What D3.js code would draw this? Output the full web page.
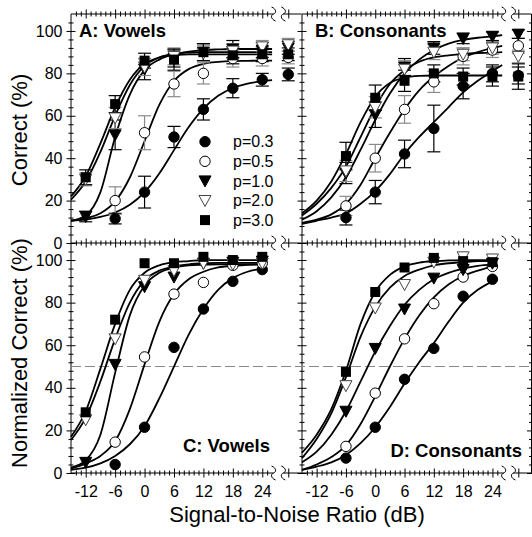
<!DOCTYPE html>
<html>
<head>
<meta charset="utf-8">
<script src="https://cdn.jsdelivr.net/npm/d3@7"></script>
<style>
  body { margin: 0; background: #fff; }
  svg { display: block; font-family: "Liberation Sans", Arial, Helvetica, sans-serif; }
</style>
</head>
<body>
<svg id="chart" width="532" height="537"></svg>
<script>
// ---- data ----
const snr = [-12, -6, 0, 6, 12, 18, 24];
const pLabels = ["p=0.3", "p=0.5", "p=1.0", "p=2.0", "p=3.0"];
const yTickLabels = [0, 20, 40, 60, 80, 100];

// A: vowels, % correct (rows follow pLabels)
const vowelsPct = [
  [null, 11.5, 24, 50, 63, 73, 77],
  [null, 20, 52, 75, 80, 87, 87],
  [12.5, 51, 82, 87, 90, 91.5, 91],
  [30, 59, 83, 88, 89.5, 90.5, 92.5],
  [31, 65.5, 86, 86.5, 90, 88.5, 89]
];
const vowelsErr = [
  [0, 2.5, 7.5, 5, 5, 4.5, 3],
  [0, 6.5, 8, 6, 5, 4, 3.5],
  [2.5, 7, 5, 4, 4, 4, 3.5],
  [3, 5, 4, 4, 3.5, 3.5, 3],
  [3.5, 4, 3.5, 5, 4, 4, 3.5]
];
const vowelsQuiet = [79.5, 87.5, 92, 93.5, 89];
const vowelsQuietErr = [3, 3, 3, 3, 3];

// B: consonants, % correct
const consPct = [
  [null, 12, 24, 42, 54, 74, 80],
  [null, 17.5, 40, 63, 76, 88, 91],
  [null, 33, 60.5, 83, 92, 96.5, 97.5],
  [null, 34, 64, 82, 90, 89, 92],
  [null, 41, 68.5, 76.5, 80, 78.5, 78.5]
];
const consErr = [
  [0, 3.5, 5.5, 6.5, 11, 6, 4],
  [0, 4.5, 6.5, 6.5, 5, 4, 3.5],
  [0, 5, 6, 4, 3, 2.5, 2],
  [0, 5, 5, 4, 3.5, 3, 3],
  [0, 6.5, 6, 5, 4, 4, 4.5]
];
const consQuiet = [79, 93, 98.5, 88, 78.5];
const consQuietErr = [4, 3.5, 2, 3, 6];

// C, D: normalized % correct
const vowelsNorm = [
  [null, 4, 21.5, 59, 77, 90, 95.5],
  [null, 14.5, 54.5, 84, 89.5, 97.5, 98.5],
  [5, 51, 87.5, 92, 98.5, 99, 99.5],
  [25, 63, 90.5, 95, 98.5, 98, 98.5],
  [28.5, 72, 98.5, 98.5, 101.5, 100, 101.5]
];
const consNorm = [
  [null, 7, 21.5, 44, 58.5, 83, 91],
  [null, 12.5, 37.5, 63, 79.5, 92, 97],
  [null, 29, 58.5, 77, 91.5, 95.5, 98.5],
  [null, 41, 77.5, 88.5, 99, 101.5, 100.5],
  [null, 47.5, 85, 96.5, 101, 99.5, 99]
];

// fitted curves, sampled off the figure
const fitSnrTop = [-15, -12, -9, -6, -3, 0, 3, 6, 9, 12, 15, 18, 21, 24, 26];
const fitSnrBottom = [-15, -12, -9, -6, -3, 0, 3, 6, 9, 12, 15, 18, 21, 24];
const vowelsFit = [
  [10.5, 11, 12.3, 14.4, 18, 24, 32.8, 43.8, 54.7, 63.4, 69.4, 73.1, 75.2, 76.3, 76.8],
  [10.6, 11.6, 14, 19.6, 30.9, 48, 65.1, 76.4, 82, 84.5, 85.4, 85.8, 85.9, 86, 86],
  [10.5, 13, 24, 50, 70, 81.5, 86.5, 89, 90.3, 91, 91.3, 91.5, 91.5, 91.5, 91.5],
  [20.5, 29, 43, 60, 74.5, 83.5, 87.5, 89.2, 89.8, 90, 90, 90, 90, 90, 90],
  [22, 31.5, 47, 64, 77, 84.5, 87.5, 88.5, 89, 89, 89, 89, 89, 89, 89]
];
const consFit = [
  [9, 10.5, 12, 14, 18.5, 24.5, 32.5, 42, 50, 57, 64, 71, 76.5, 81, 84],
  [9.5, 11, 13.5, 18.5, 27.5, 40, 52, 63, 72, 78.5, 83.5, 87.5, 90, 92, 93],
  [11, 15, 21.5, 31, 44, 58, 70.5, 80, 86.5, 91, 94, 95.8, 96.8, 97.5, 98],
  [13, 18.5, 26, 36, 50, 64, 75, 81.5, 85.5, 87.5, 88.5, 89.2, 89.6, 89.8, 90],
  [14, 20, 29, 42, 57, 69, 75.5, 78, 78.8, 79, 79, 79, 79, 79, 79]
];
const vowelsNormFit = [
  [1.5, 2.5, 4.5, 8, 13.5, 22, 35, 50, 65, 77, 86, 91.5, 94.5, 96],
  [2, 4.5, 8, 15, 30, 51, 71, 84, 91, 94.5, 96.5, 97.3, 97.7, 98],
  [2.5, 6, 18, 47, 74, 88, 94, 96.5, 97.5, 97.8, 98, 98, 98, 98],
  [15.5, 26, 43, 63, 80, 90.5, 95, 97, 98, 98.5, 98.7, 98.7, 98.7, 98.7],
  [17, 29, 49, 70, 86, 94, 97.5, 99, 99.5, 100, 100, 100, 100, 100]
];
const consNormFit = [
  [1.5, 3, 5, 8.5, 14, 21.5, 31, 42, 52, 61, 71, 80, 86, 90],
  [1.5, 4, 7.5, 13, 23, 36, 50, 63, 74, 82.5, 88.5, 92.5, 95, 97],
  [5, 10, 18, 29, 43, 57, 69, 79, 86, 91, 94, 96, 97.3, 98],
  [7, 16, 28, 45, 64, 78, 87, 92.5, 95.5, 97.5, 98.5, 99, 99.5, 99.5],
  [9.5, 18, 30, 48, 70, 85, 93, 97, 98.8, 99.5, 99.8, 100, 100, 100]
];

// ---- layout ----
const svg = d3.select("#chart");
const xL = d3.scaleLinear().domain([-15, 32]).range([71, 301.5]);
const xR = d3.scaleLinear().domain([-15, 32]).range([302, 531.5]);
const yT = d3.scaleLinear().domain([0, 108]).range([243, 14]);
const yB = d3.scaleLinear().domain([0, 108]).range([473, 243]);
const breakA = 26.3, breakB = 28.3, quietAt = 29.3;
const tickFont = 16;

const gAxes = svg.append("g");
const gMarks = svg.append("g");

// squiggle for the broken axis
function squiggle(g, cx, cy) {
  g.append("path")
    .attr("d", `M${cx - 2},${cy - 7} C${cx + 3},${cy - 5} ${cx + 3},${cy - 1} ${cx},${cy} C${cx - 3},${cy + 1} ${cx - 3},${cy + 5} ${cx + 2},${cy + 7}`)
    .attr("fill", "none")
    .attr("stroke", "#000")
    .attr("stroke-width", 1);
}

function xAxisAt(x, yPos, withLabels) {
  const g = gAxes.append("g");
  g.append("line").attr("x1", x(-15)).attr("x2", x(breakA))
    .attr("y1", yPos).attr("y2", yPos).attr("stroke", "#000");
  g.append("line").attr("x1", x(breakB)).attr("x2", x.range()[1])
    .attr("y1", yPos).attr("y2", yPos).attr("stroke", "#000");
  squiggle(g, x(breakA), yPos);
  squiggle(g, x(breakB), yPos);

  const minor = d3.range(-14, 26).filter(v => v % 6 !== 0);
  const minorAxis = g.append("g").attr("transform", `translate(0,${yPos})`)
    .call(d3.axisBottom(x).tickValues(minor).tickSize(2.5).tickFormat(""));
  minorAxis.select(".domain").remove();
  minorAxis.selectAll(".tick line").attr("y1", -2.5);

  const major = g.append("g").attr("transform", `translate(0,${yPos})`)
    .call(d3.axisBottom(x).tickValues(snr.concat([quietAt])).tickSize(4.5).tickPadding(8)
      .tickFormat(d => (withLabels && d !== quietAt) ? d : ""));
  major.select(".domain").remove();
  major.selectAll(".tick line").attr("y1", -4.5);
  major.selectAll(".tick text").attr("font-size", tickFont).attr("fill", "#000")
    .attr("font-family", "Liberation Sans, Arial, sans-serif");
}

function yAxisAt(y, xPos, withLabels) {
  const g = gAxes.append("g").attr("transform", `translate(${xPos},0)`);
  g.append("line").attr("y1", y.range()[0]).attr("y2", y.range()[1]).attr("stroke", "#000");
  const minor = d3.range(4, 108, 4).filter(v => v % 20 !== 0);
  const mi = g.append("g").call(d3.axisLeft(y).tickValues(minor).tickSize(2.5).tickFormat(""));
  mi.select(".domain").remove();
  mi.selectAll(".tick line").attr("x1", 2.5);
  const ma = g.append("g").call(d3.axisLeft(y).tickValues(yTickLabels).tickSize(4.5).tickPadding(4)
    .tickFormat(d => withLabels ? d : ""));
  ma.select(".domain").remove();
  ma.selectAll(".tick line").attr("x1", 4.5);
  ma.selectAll(".tick text").attr("font-size", tickFont).attr("fill", "#000")
    .attr("font-family", "Liberation Sans, Arial, sans-serif");
}

// frames
xAxisAt(xL, 14, false);
xAxisAt(xR, 14, false);
xAxisAt(xL, 243, false);
xAxisAt(xR, 243, false);
xAxisAt(xL, 473, true);
xAxisAt(xR, 473, true);
yAxisAt(yT, 71, true);
yAxisAt(yB, 71, true);
yAxisAt(yT, 302, false);
yAxisAt(yB, 302, false);
yAxisAt(yT, 531.5, false);
yAxisAt(yB, 531.5, false);

// 50% reference line in the normalized panels
gAxes.append("line")
  .attr("x1", xL(-15)).attr("x2", 532)
  .attr("y1", yB(50)).attr("y2", yB(50))
  .attr("stroke", "#888").attr("stroke-width", 1.2)
  .attr("stroke-dasharray", "10,4");

// markers: 0 filled circle, 1 open circle, 2 filled tri down, 3 open tri down, 4 filled square
function marker(g, k, cx, cy) {
  if (k === 0 || k === 1) {
    g.append("circle").attr("cx", cx).attr("cy", cy).attr("r", 5.2)
      .attr("fill", k === 0 ? "#000" : "#fff")
      .attr("stroke", "#000").attr("stroke-width", 1);
  } else if (k === 2 || k === 3) {
    g.append("path")
      .attr("d", `M${cx - 6},${cy - 5}L${cx + 6},${cy - 5}L${cx},${cy + 6}Z`)
      .attr("fill", k === 2 ? "#000" : "#fff")
      .attr("stroke", k === 2 ? "#000" : "#444").attr("stroke-width", 1);
  } else {
    g.append("rect").attr("x", cx - 5).attr("y", cy - 5)
      .attr("width", 10).attr("height", 10).attr("fill", "#000");
  }
}

function errBar(g, k, cx, cy0, cy1) {
  const col = (k === 1 || k === 3) ? "#8a8a8a" : "#000";
  g.append("line").attr("x1", cx).attr("x2", cx).attr("y1", cy0).attr("y2", cy1)
    .attr("stroke", col).attr("stroke-width", 1.2);
  [cy0, cy1].forEach(c => g.append("line")
    .attr("x1", cx - 6.5).attr("x2", cx + 6.5).attr("y1", c).attr("y2", c)
    .attr("stroke", col).attr("stroke-width", 1.2));
}

const panels = [
  { x: xL, y: yT, pts: vowelsPct, err: vowelsErr, q: vowelsQuiet, qErr: vowelsQuietErr, fit: vowelsFit, fitX: fitSnrTop },
  { x: xR, y: yT, pts: consPct, err: consErr, q: consQuiet, qErr: consQuietErr, fit: consFit, fitX: fitSnrTop },
  { x: xL, y: yB, pts: vowelsNorm, fit: vowelsNormFit, fitX: fitSnrBottom },
  { x: xR, y: yB, pts: consNorm, fit: consNormFit, fitX: fitSnrBottom }
];

panels.forEach(p => {
  const line = d3.line()
    .x((d, i) => p.x(p.fitX[i]))
    .y(d => p.y(d))
    .curve(d3.curveMonotoneX);

  p.fit.forEach(row => {
    gMarks.append("path").attr("d", line(row))
      .attr("fill", "none").attr("stroke", "#000").attr("stroke-width", 1.8);
  });

  if (p.err) {
    p.pts.forEach((row, k) => {
      row.forEach((v, i) => {
        if (v == null || !p.err[k][i]) return;
        errBar(gMarks, k, p.x(snr[i]), p.y(v - p.err[k][i]), p.y(v + p.err[k][i]));
      });
      errBar(gMarks, k, p.x(quietAt), p.y(p.q[k] - p.qErr[k]), p.y(p.q[k] + p.qErr[k]));
    });
  }

  p.pts.forEach((row, k) => {
    row.forEach((v, i) => {
      if (v == null) return;
      marker(gMarks, k, p.x(snr[i]), p.y(v));
    });
    if (p.q) marker(gMarks, k, p.x(quietAt), p.y(p.q[k]));
  });
});

// legend (panel A)
pLabels.forEach((t, k) => {
  const cy = 141.7 + k * 19.6;
  marker(gMarks, k, 205, cy);
  gMarks.append("text").attr("x", 233).attr("y", cy).attr("dy", "0.35em")
    .attr("font-size", 16).text(t);
});

// panel titles
const titles = [
  { t: "A: Vowels", x: 79, y: 37, a: "start" },
  { t: "B: Consonants", x: 315, y: 37, a: "start" },
  { t: "C: Vowels", x: 270, y: 452, a: "end" },
  { t: "D: Consonants", x: 522, y: 457, a: "end" }
];
titles.forEach(d => svg.append("text")
  .attr("x", d.x).attr("y", d.y).attr("text-anchor", d.a)
  .attr("font-size", 18.5).attr("font-weight", "bold").text(d.t));

// axis titles
svg.append("text")
  .attr("transform", "translate(27,130) rotate(-90)")
  .attr("text-anchor", "middle").attr("font-size", 22).text("Correct (%)");
svg.append("text")
  .attr("transform", "translate(27,353) rotate(-90)")
  .attr("text-anchor", "middle").attr("font-size", 22).text("Normalized Correct (%)");
svg.append("text")
  .attr("x", 297).attr("y", 522)
  .attr("text-anchor", "middle").attr("font-size", 22).text("Signal-to-Noise Ratio (dB)");
</script>
</body>
</html>
